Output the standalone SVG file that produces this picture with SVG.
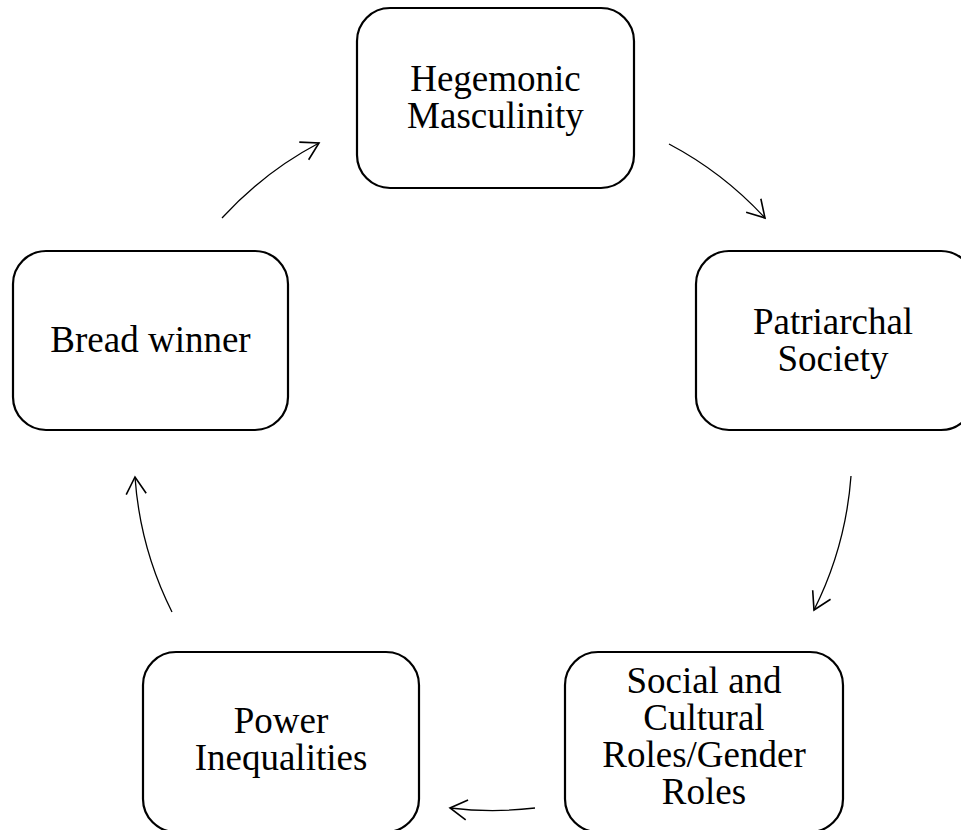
<svg xmlns="http://www.w3.org/2000/svg" width="961" height="830" viewBox="0 0 961 830">
<style>
.box{fill:#fff;stroke:#000;stroke-width:2.2}
.lbl{font-family:"Liberation Serif","Times New Roman",serif;font-size:37px;fill:#000;text-anchor:middle}
.conn{fill:none;stroke:#000;stroke-width:1.3}
</style>
<defs>
<marker id="ah" markerUnits="userSpaceOnUse" markerWidth="30" markerHeight="30" viewBox="-20 -15 25 30" refX="0" refY="0" orient="auto">
<path d="M-17,-10 L0,0 L-17,10" fill="none" stroke="#000" stroke-width="1.6"/>
</marker>
</defs>
<rect width="961" height="830" fill="#fff"/>
<g id="connectors">
<path class="conn" d="M222,218 A357 357 0 0 1 319,143" marker-end="url(#ah)"/>
<path class="conn" d="M669,144 A357 357 0 0 1 765,218" marker-end="url(#ah)"/>
<path class="conn" d="M851,476 A357 357 0 0 1 814,610" marker-end="url(#ah)"/>
<path class="conn" d="M535,808 A357 357 0 0 1 450,808" marker-end="url(#ah)"/>
<path class="conn" d="M172,612 A357 357 0 0 1 135,477" marker-end="url(#ah)"/>
</g>
<g id="hegemonic">
<rect class="box" x="357" y="8" width="277" height="180" rx="33"/>
<text class="lbl" x="495.5" y="91">Hegemonic</text>
<text class="lbl" x="495.5" y="128">Masculinity</text>
</g>
<g id="patriarchal">
<rect class="box" x="696" y="251" width="278" height="179" rx="33"/>
<text class="lbl" x="833" y="334">Patriarchal</text>
<text class="lbl" x="833" y="371">Society</text>
</g>
<g id="social">
<rect class="box" x="565" y="652" width="278" height="180" rx="33"/>
<text class="lbl" x="704" y="693">Social and</text>
<text class="lbl" x="704" y="730">Cultural</text>
<text class="lbl" x="704" y="767">Roles/Gender</text>
<text class="lbl" x="704" y="804">Roles</text>
</g>
<g id="power">
<rect class="box" x="143" y="652" width="276" height="180" rx="33"/>
<text class="lbl" x="281" y="733">Power</text>
<text class="lbl" x="281" y="770">Inequalities</text>
</g>
<g id="breadwinner">
<rect class="box" x="13" y="251" width="275" height="179" rx="33"/>
<text class="lbl" x="150.5" y="352">Bread winner</text>
</g>
</svg>
